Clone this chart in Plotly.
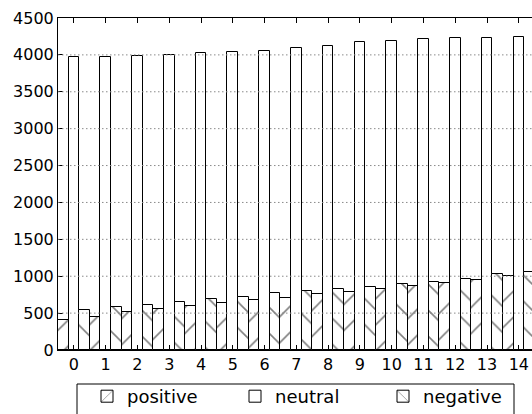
import plotly.graph_objects as go

categories = list(range(15))
tick_labels = [str(c) for c in categories]
positive = [400, 443, 515, 561, 597, 642, 683, 701, 764, 782, 823, 863, 904, 949, 1003]
neutral = [3970, 3978, 3985, 3997, 4020, 4040, 4050, 4097, 4120, 4175, 4195, 4212, 4225, 4232, 4240]
negative = [538, 579, 606, 646, 687, 723, 768, 805, 823, 850, 890, 927, 967, 1026, 1062]
series_names = ["positive", "neutral", "negative"]
y_ticks = list(range(0, 5000, 500))

FONT = "DejaVu Sans"
edge = dict(color="black", width=1)

fig = go.Figure()
fig.add_trace(go.Bar(
    x=categories, y=positive, name=series_names[0],
    marker=dict(color="white", line=edge,
                pattern=dict(shape="/", size=18.4, solidity=0.085,
                             fgcolor="black", bgcolor="white")),
))
fig.add_trace(go.Bar(
    x=categories, y=neutral, name=series_names[1],
    marker=dict(color="white", line=edge),
))
fig.add_trace(go.Bar(
    x=categories, y=negative, name=series_names[2],
    marker=dict(color="white", line=edge,
                pattern=dict(shape="\\", size=18.4, solidity=0.085,
                             fgcolor="black", bgcolor="white")),
))

# dotted grid drawn above bars (matplotlib classic style)
shapes = []
for v in y_ticks[1:-1]:
    shapes.append(dict(type="line", xref="paper", yref="y", x0=0, x1=1, y0=v, y1=v,
                       line=dict(color="#8a8a8a", width=1, dash="1.5px,2.5px"), layer="above"))
# legend frame
shapes.append(dict(type="rect", xref="paper", yref="paper",
                   x0=(77 - 58) / 474, x1=(514 - 58) / 474,
                   y0=(350 - 384) / 332, y1=(350 - 440) / 332,
                   line=dict(color="black", width=1), fillcolor="rgba(0,0,0,0)"))

fig.update_layout(
    width=532, height=414,
    margin=dict(l=58, r=0, t=18, b=64, pad=0, autoexpand=False),
    paper_bgcolor="white", plot_bgcolor="white",
    font=dict(family=FONT, size=16, color="black"),
    barmode="group", bargap=0, bargroupgap=0,
    showlegend=True,
    legend=dict(orientation="h", x=(87 - 58) / 474, y=(350 - 378) / 332,
                xanchor="left", yanchor="top",
                bgcolor="rgba(0,0,0,0)", borderwidth=0,
                entrywidth=103, entrywidthmode="pixels",
                font=dict(family=FONT, size=18, color="black")),
    shapes=shapes,
    xaxis=dict(range=[-0.5, 14.415], tickmode="array", tickvals=categories, ticktext=tick_labels,
               ticks="inside", ticklen=5, tickcolor="black", tickwidth=1,
               showline=True, linecolor="black", linewidth=1, mirror="ticks",
               showgrid=False, zeroline=False),
    yaxis=dict(range=[0, 4500], tickmode="array", tickvals=y_ticks,
               ticks="inside", ticklen=5, tickcolor="black", tickwidth=1,
               showline=True, linecolor="black", linewidth=1, mirror=False,
               showgrid=False, zeroline=False),
    yaxis2=dict(range=[0, 4500], tickmode="array", tickvals=y_ticks, overlaying="y", side="right",
                ticks="inside", ticklen=5, tickcolor="black", tickwidth=1,
                showticklabels=False, showline=False, showgrid=False, zeroline=False),
)

fig.write_html("out.html", config={"displayModeBar": False},
               post_script="document.body.style.margin='0';")
